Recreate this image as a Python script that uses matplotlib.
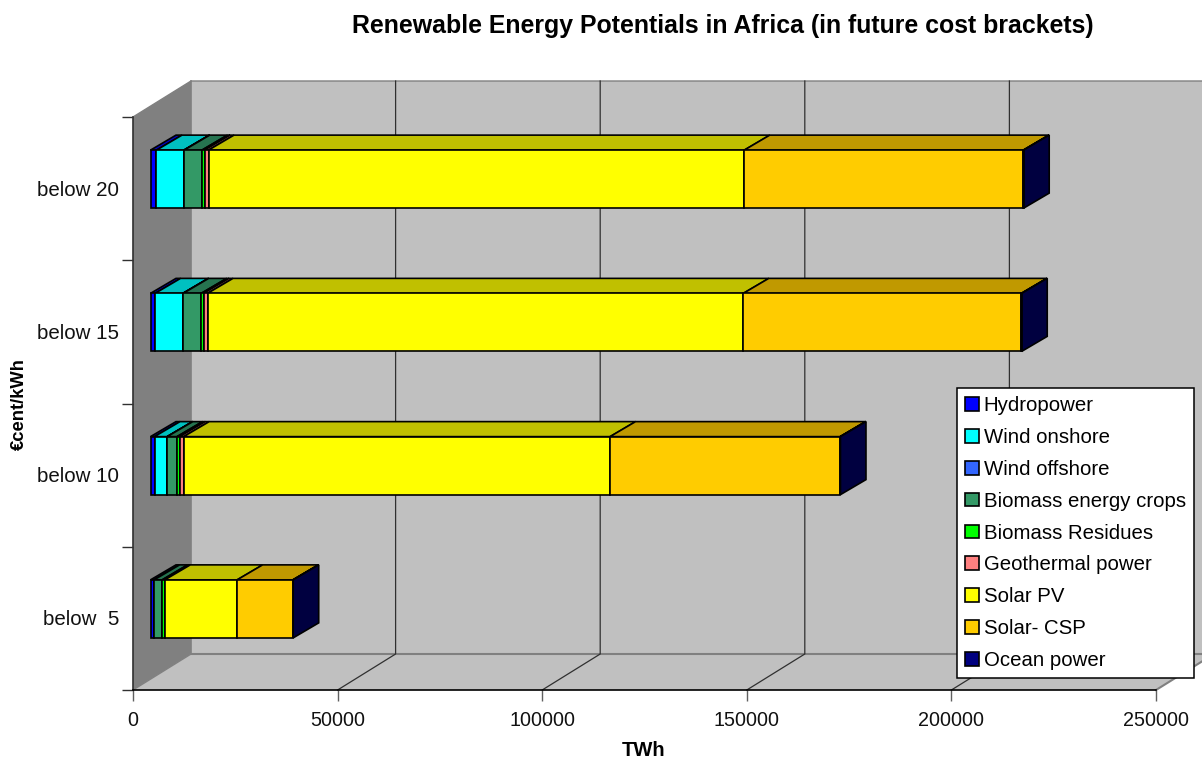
import numpy as np
import matplotlib
matplotlib.use('Agg')
import matplotlib.pyplot as plt
from matplotlib.patches import Polygon, Patch

plt.rcParams['font.family'] = ['Liberation Sans', 'DejaVu Sans']

categories = ['below  5', 'below 10', 'below 15', 'below 20']
hydropower = [880, 978, 1124, 1466]
wind_onshore = [0, 3080, 6770, 6672]
wind_offshore = [0, 50, 100, 100]
biomass_crops = [1955, 2370, 4400, 4325]
biomass_residues = [660, 660, 562, 635]
geothermal = [0, 978, 978, 978]
solar_pv = [17670, 104190, 130925, 130925]
solar_csp = [13610, 56210, 67950, 68190]
ocean = [100, 100, 100, 100]

names = ['Hydropower', 'Wind onshore', 'Wind offshore', 'Biomass energy crops', 'Biomass Residues',
         'Geothermal power', 'Solar PV', 'Solar- CSP', 'Ocean power']
series = [hydropower, wind_onshore, wind_offshore, biomass_crops, biomass_residues,
          geothermal, solar_pv, solar_csp, ocean]
colors = ['#0000FF', '#00FFFF', '#3366FF', '#339966', '#00FF00', '#FF8080', '#FFFF00', '#FFCC00', '#000080']
top_colors = ['#0000C0', '#00C0C0', '#2650C0', '#267350', '#00C000', '#C06060', '#C0C000', '#C09900', '#000060']
xticks = [0, 50000, 100000, 150000, 200000, 250000]

W, H = 1202, 758
fig = plt.figure(figsize=(W / 100, H / 100), dpi=100)
ax = fig.add_axes([133 / W, 1 - 690 / H, (1156 - 133) / W, (690 - 117) / H])
ax.set_xlim(0, 250000)
ax.set_ylim(0, 4)
ax.patch.set_visible(False)
for s in ax.spines.values():
    s.set_visible(False)

# px -> data sizes of the fake 3d box
px_x = 250000 / (1156 - 133)
px_y = 4 / (690 - 117)
wall_dx, wall_dy = 58 * px_x, 36 * px_y
bar_x0, bar_y0 = 17.5 * px_x, 9.5 * px_y
bar_dx, bar_dy = 25.5 * px_x, 15 * px_y
bar_h = 58 * px_y
edge_w = 1.2


def poly(pts, fc, ec='none', lw=0, z=1):
    ax.add_patch(Polygon(pts, closed=True, facecolor=fc, edgecolor=ec, linewidth=lw,
                         zorder=z, clip_on=False, joinstyle='miter'))


# walls
poly([(wall_dx, wall_dy), (250000 + wall_dx, wall_dy), (250000 + wall_dx, 4 + wall_dy), (wall_dx, 4 + wall_dy)], '#C0C0C0')
poly([(0, 0), (wall_dx, wall_dy), (wall_dx, 4 + wall_dy), (0, 4)], '#808080')
poly([(0, 0), (250000, 0), (250000 + wall_dx, wall_dy), (wall_dx, wall_dy)], '#C0C0C0')
ax.plot([wall_dx, 250000 + wall_dx], [wall_dy, wall_dy], color='#808080', lw=1.5, zorder=2, clip_on=False)
ax.plot([wall_dx, wall_dx], [wall_dy, 4 + wall_dy], color='#808080', lw=1.2, zorder=2, clip_on=False)
ax.plot([0, wall_dx, 250000 + wall_dx], [4, 4 + wall_dy, 4 + wall_dy], color='#808080', lw=1, zorder=2, clip_on=False)
ax.plot([0, wall_dx], [0, wall_dy], color='#808080', lw=1, zorder=2, clip_on=False)
for t in xticks[1:-1]:
    ax.plot([t, t + wall_dx, t + wall_dx], [0, wall_dy, 4 + wall_dy], color='#303030', lw=0.9, zorder=2, clip_on=False)
ax.plot([250000, 250000 + wall_dx], [0, wall_dy], color='#808080', lw=1.5, zorder=2, clip_on=False)

# stacked bars
y_pos = np.arange(4) + 0.5 + bar_y0
left = np.zeros(4) + bar_x0
for vals, c, tc in zip(series, colors, top_colors):
    vals = np.array(vals, dtype=float)
    ax.barh(y_pos, vals, height=bar_h, left=left, color=c, edgecolor='black', linewidth=edge_w,
            zorder=5, clip_on=False)
    for l, v, y in zip(left, vals, y_pos):
        top = y + bar_h / 2
        poly([(l, top), (l + v, top), (l + v + bar_dx, top + bar_dy), (l + bar_dx, top + bar_dy)],
             tc, 'black', edge_w, 4)
    left = left + vals
for l, y in zip(left, y_pos):
    poly([(l, y - bar_h / 2), (l + bar_dx, y - bar_h / 2 + bar_dy),
          (l + bar_dx, y + bar_h / 2 + bar_dy), (l, y + bar_h / 2)], '#000040', 'black', edge_w, 4)

# axes and ticks
ax.spines['bottom'].set_visible(True)
ax.spines['left'].set_visible(True)
ax.spines['bottom'].set_linewidth(1.2)
ax.spines['left'].set_linewidth(1.2)
ax.spines['left'].set_color('#303030')
ax.set_xticks(xticks)
ax.set_xticklabels([str(t) for t in xticks], fontsize=14.2, color='#111111')
ax.tick_params(axis='x', length=8, width=1, color='#606060', pad=7)
ax.set_yticks([0, 1, 2, 3, 4])
ax.set_yticklabels([])
ax.tick_params(axis='y', length=8, width=1, color='#303030')
for i, c in enumerate(categories):
    ax.text(-14 * px_x, i + 0.49, c, ha='right', va='center', fontsize=14.8, color='#111111')

fig.text(723 / W, 1 - 26 / H, 'Renewable Energy Potentials in Africa (in future cost brackets)',
         ha='center', va='center', fontsize=17.9, fontweight='bold')
fig.text(644 / W, 1 - 750 / H, 'TWh', ha='center', va='center', fontsize=14.5, fontweight='bold')
fig.text(19 / W, 1 - 404 / H, '€cent/kWh', ha='center', va='center', rotation=90, fontsize=13.2, fontweight='bold')

handles = [Patch(facecolor=c, edgecolor='black', linewidth=1.2) for c in colors]
leg = fig.legend(handles, names, loc='upper left', bbox_to_anchor=(957 / W, 1 - 388 / H),
                 bbox_transform=fig.transFigure, fontsize=14.7, fancybox=False, edgecolor='black',
                 framealpha=1, borderpad=0.4, labelspacing=0.63, handlelength=0.66, handleheight=0.66,
                 handletextpad=0.24, borderaxespad=0)
leg.get_frame().set_linewidth(1.1)
leg.set_zorder(10)

fig.savefig('out.png', dpi=100)
